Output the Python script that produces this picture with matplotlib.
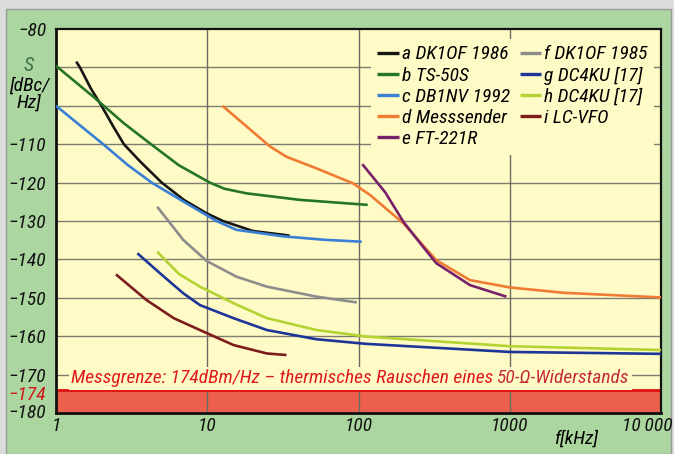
import matplotlib.pyplot as plt
from matplotlib.patches import Rectangle
import matplotlib.transforms as mtransforms

plt.rcParams['font.family'] = ['Roboto Condensed', 'DejaVu Sans']
plt.rcParams['font.style'] = 'italic'

# phase noise curves, frequency offset in kHz, level in dBc/Hz
a_f = [1.36, 1.44, 1.7, 2.0, 2.4, 2.81, 3.6, 5.0, 7.0, 9.9, 12.7, 20, 35]
a_s = [-88.5, -90, -95.5, -100, -105.5, -110, -114.5, -120, -124.5, -128,
       -130, -132.6, -133.8]

b_f = [1, 1.76, 2.8, 4.18, 6.5, 10.4, 13, 18.2, 41, 115]
b_s = [-89.6, -97.6, -104.5, -109.8, -115.5, -120, -121.6, -122.8, -124.5, -125.8]

c_f = [1, 2.05, 3.0, 4.29, 7.0, 11.5, 15.6, 31.8, 60, 105]
c_s = [-100, -110, -115.5, -120, -125, -130, -132.3, -134, -134.9, -135.4]

d_f = [12.6, 26, 33.5, 52.8, 92, 119, 198, 327, 546, 1000, 2275, 10000]
d_s = [-100, -110.6, -113.3, -116.3, -120.2, -123.2, -130.6, -140.2, -145.4,
       -147.3, -148.7, -149.9]

e_f = [106, 150, 198, 256, 327, 546, 950]
e_s = [-115.2, -122.5, -130.2, -135.8, -141, -146.7, -149.7]

f_f = [4.67, 6.93, 9.9, 15.6, 24.8, 52.8, 97.5]
f_s = [-126.3, -134.9, -140.4, -144.5, -147.1, -149.7, -151.2]

g_f = [3.45, 5.0, 6.93, 8.95, 14.9, 24.8, 52.8, 113, 1000, 10000]
g_s = [-138.4, -144, -148.8, -151.9, -155.3, -158.4, -160.8, -162, -164.1, -164.6]

h_f = [4.67, 6.5, 8.95, 14.9, 24.8, 52.8, 113, 1000, 10000]
h_s = [-138, -143.8, -147.1, -151.4, -155.3, -158.4, -160.1, -162.6, -163.6]

i_f = [2.49, 3.97, 6.0, 8.95, 14.9, 24.8, 33.4]
i_s = [-143.9, -150.6, -155.3, -158.4, -162.3, -164.5, -164.9]

series = [
    ('a DK1OF 1986', a_f, a_s, '#161616'),
    ('b TS-50S', b_f, b_s, '#247528'),
    ('c DB1NV 1992', c_f, c_s, '#3a7fd6'),
    ('d Messsender', d_f, d_s, '#f07b32'),
    ('e FT-221R', e_f, e_s, '#76206a'),
    ('f DK1OF 1985', f_f, f_s, '#8c8c8c'),
    ('g DC4KU [17]', g_f, g_s, '#1e3598'),
    ('h DC4KU [17]', h_f, h_s, '#b4d232'),
    ('i LC-VFO', i_f, i_s, '#7c1c1c'),
]

x_ticks = [1, 10, 100, 1000, 10000]
x_labels = ['1', '10', '100', '1000', '10\u2009000']
y_ticks = [-80, -110, -120, -130, -140, -150, -160, -170, -174, -180]
y_grid = [-90, -100, -110, -120, -130, -140, -150, -160, -170]
noise_floor = -174

bg = '#fffbc6'
green = '#acd6a0'

fig = plt.figure(figsize=(6.74, 4.54), dpi=100)
fig.patch.set_facecolor('#dcdcdc')
fig.add_artist(Rectangle((6 / 674, 0), 665 / 674, 1 - 9 / 454,
                         transform=fig.transFigure, facecolor=green,
                         edgecolor='#9a9a9a', lw=1, zorder=-5))
ax = fig.add_axes([56 / 674, 1 - 413 / 454, 605 / 674, 384 / 454])
ax.set_facecolor(bg)
ax.set_xscale('log')
ax.set_xlim(1, 10000)
ax.set_ylim(-180, -80)

# grid
for y in y_grid:
    ax.axhline(y, color='#7c7c72', lw=1, zorder=2)
for x in x_ticks[1:-1]:
    ax.axvline(x, color='#6c6c64', lw=1, zorder=2)

# measurement limit band
ax.axhspan(-180, noise_floor, facecolor='#ec5f4c', edgecolor='none', zorder=1)
ax.axhline(noise_floor, color='#e01212', lw=2, zorder=2)

for name, fx, sy, col in series:
    ax.plot(fx, sy, color=col, lw=1.9, label=name, zorder=3,
            solid_capstyle='butt')

fs = 14
t1 = ax.text(1.25, -171, 'Messgrenze: 174dBm/Hz \u2013 thermisches Rauschen eines ',
             color='#e01a1a', fontsize=fs, ha='left', va='center', zorder=4,
             bbox=dict(facecolor=bg, edgecolor='none', pad=1.5))
ax.annotate('50-\u03a9-Widerstands', xy=(1, 0), xycoords=t1, ha='left',
            va='bottom', color='#c42a3a', fontsize=fs, zorder=4,
            bbox=dict(facecolor=bg, edgecolor='none', pad=1.5))

leg = ax.legend(ncol=2, loc='upper left', bbox_to_anchor=(0.52, 0.975),
                borderaxespad=0, fontsize=fs, handlelength=1.1,
                handletextpad=0.15, columnspacing=0.5, labelspacing=0.16,
                borderpad=0.35, frameon=True, fancybox=False)
leg.get_frame().set_facecolor(bg)
leg.get_frame().set_edgecolor('none')
leg.get_frame().set_alpha(1)
leg.set_zorder(5)
for ln in leg.get_lines():
    ln.set_linewidth(2.4)

ax.set_xticks(x_ticks, x_labels)
ax.minorticks_off()
ax.set_yticks(y_ticks, [str(v).replace('-', '\u2212') for v in y_ticks])
ax.tick_params(length=0, labelsize=fs, colors='#111111')
ax.tick_params(axis='y', pad=7)
ax.tick_params(axis='x', pad=3)

# nudge the crowded labels at the bottom of the y axis
nudge = {'\u2212174': -3, '\u2212180': 2}
for lab in ax.get_yticklabels():
    txt = lab.get_text()
    if txt == '\u2212174':
        lab.set_color('#d01818')
    if txt in nudge:
        sh = mtransforms.ScaledTranslation(0, nudge[txt] / 100, fig.dpi_scale_trans)
        lab.set_transform(lab.get_transform() + sh)
xl = ax.get_xticklabels()
off = mtransforms.ScaledTranslation(-14 / 100, 0, fig.dpi_scale_trans)
xl[-1].set_transform(xl[-1].get_transform() + off)

for sp in ax.spines.values():
    sp.set_color('#111111')
    sp.set_linewidth(1.6)
ax.spines['left'].set_linewidth(2)
ax.spines['bottom'].set_linewidth(2)

ax.set_xlabel('f[kHz]', fontsize=fs)
ax.xaxis.set_label_coords(0.86, -0.044)
ax.set_ylabel('[dBc/\nHz]', fontsize=fs, rotation=0, ha='center',
              va='center', linespacing=0.95)
ax.yaxis.set_label_coords(-0.045, 0.83)
ax.text(-0.045, 0.904, 'S', transform=ax.transAxes, ha='center', va='center',
        fontsize=fs + 0.5, color='#3f7048')

fig.savefig('out.png', dpi=100, facecolor=fig.get_facecolor())
